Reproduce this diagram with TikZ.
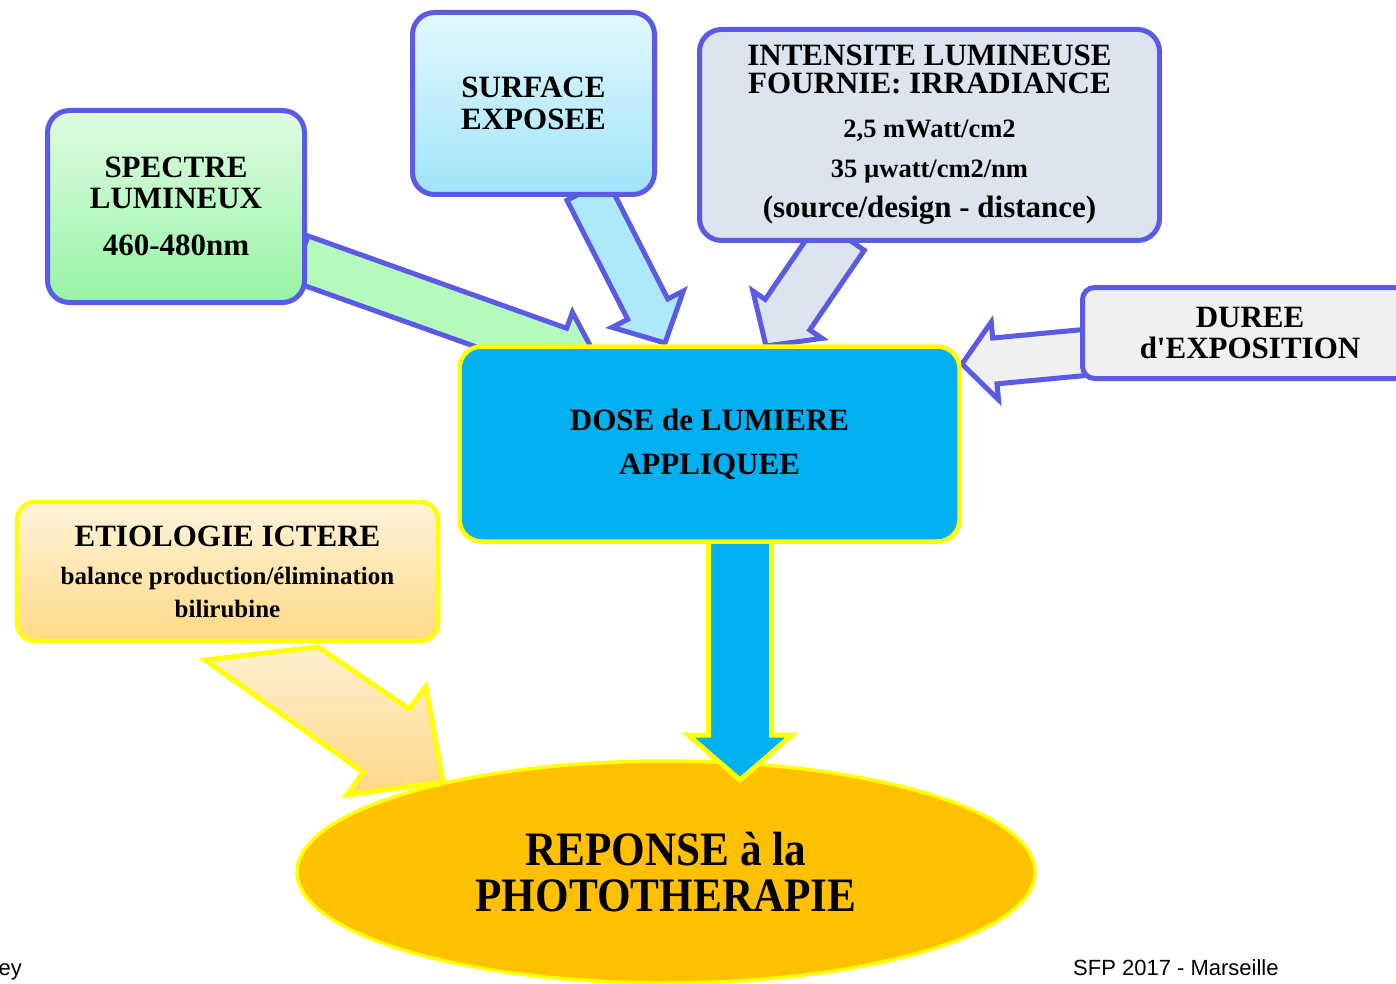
\documentclass[tikz,border=0pt]{standalone}
\usepackage{fontspec}
\setmainfont{Liberation Serif}
\newfontfamily\condfont{Liberation Serif}[FakeStretch=0.9]
\newfontfamily\arialfont{Liberation Sans}
\usetikzlibrary{calc,shapes.geometric}
\pgfdeclarelayer{back}
\pgfdeclarelayer{arrows}
\pgfsetlayers{back,arrows,main}

\definecolor{bord}{RGB}{90,90,228}
\definecolor{doseblue}{RGB}{0,176,240}
\definecolor{respgold}{RGB}{255,192,0}
\definecolor{yel}{RGB}{255,255,0}
\definecolor{greentop}{RGB}{224,252,226}
\definecolor{greenbot}{RGB}{150,244,165}
\definecolor{greenarr}{RGB}{181,249,189}
\definecolor{cyantop}{RGB}{226,248,253}
\definecolor{cyanbot}{RGB}{160,228,251}
\definecolor{cyanarr}{RGB}{174,232,251}
\definecolor{greyblue}{RGB}{220,228,240}
\definecolor{lightgrey}{RGB}{240,240,240}
\definecolor{oratop}{RGB}{255,243,220}
\definecolor{orabot}{RGB}{255,218,134}
\definecolor{oraarrtop}{RGB}{255,240,208}
\definecolor{oraarrbot}{RGB}{255,214,136}

\newcommand\blockarrow[7]{%
  \coordinate (#1s) at #3;
  \coordinate (#1t) at #4;
  \coordinate (#1h) at ($(#1t)!#7!(#1s)$);
  \path[#2] ($(#1s)!#5!90:(#1t)$) -- ($(#1h)!#5!-90:(#1s)$) -- ($(#1h)!#6!-90:(#1s)$)
    -- (#1t) -- ($(#1h)!#6!90:(#1s)$) -- ($(#1h)!#5!90:(#1s)$) -- ($(#1s)!#5!-90:(#1t)$) -- cycle;
}

\tikzset{
  box/.style={rounded corners=22pt, draw=bord, line width=5pt, inner sep=0pt, align=center,
    font=\bfseries\fontsize{31}{31}\selectfont},
  yelbox/.style={rounded corners=18pt, draw=yel, line width=4.5pt, inner sep=0pt, align=center,
    font=\bfseries\fontsize{31}{38}\selectfont},
  bluearrow/.style={draw=bord, line width=5pt, line join=miter},
  yelarrow/.style={draw=yel, line width=5pt, line join=miter},
  footer/.style={font=\arialfont\fontsize{22}{22}\selectfont, inner sep=0pt},
}

\begin{document}
\begin{tikzpicture}[x=1pt,y=-1pt]
\useasboundingbox (0,0) rectangle (1396,984);

\begin{pgfonlayer}{back}
  \fill[white] (0,0) rectangle (1396,984);
  \node[ellipse, fill=respgold, draw=yel, line width=3.5pt, minimum width=738pt, minimum height=222pt,
        inner sep=0pt, align=center, font=\condfont\bfseries\fontsize{48}{46}\selectfont]
        (resp) at (666,872) {REPONSE à la\\PHOTOTHERAPIE};
\end{pgfonlayer}

% boxes
\node[box, top color=greentop, bottom color=greenbot, minimum width=257pt, minimum height=192pt]
  (spectre) at (176,206.5) {SPECTRE\\LUMINEUX\\[16pt]460-480nm};
\node[box, top color=cyantop, bottom color=cyanbot, minimum width=242pt, minimum height=182pt,
      font=\bfseries\fontsize{31}{32}\selectfont]
  (surface) at (533.5,103.5) {SURFACE\\EXPOSEE};
\node[box, fill=greyblue, minimum width=460pt, minimum height=211pt,
      font=\bfseries\fontsize{31}{28}\selectfont]
  (intens) at (929.5,135) {INTENSITE LUMINEUSE\\FOURNIE: IRRADIANCE\\[16pt]{\fontsize{26.5}{28}\selectfont 2,5 mWatt/cm2}\\[12pt]{\fontsize{26.5}{28}\selectfont 35 µwatt/cm2/nm}\\[12pt](source/design - distance)};
\node[box, rounded corners=12pt, fill=lightgrey, minimum width=335pt, minimum height=91pt]
  (duree) at (1250,333) {DUREE\\d\textquotesingle EXPOSITION};
\node[yelbox, rounded corners=22pt, fill=doseblue, minimum width=500pt, minimum height=195pt,
      font=\bfseries\fontsize{31}{44}\selectfont]
  (dose) at (709.5,444) {DOSE de LUMIERE\\APPLIQUEE};
\node[yelbox, top color=oratop, bottom color=orabot, minimum width=421pt, minimum height=139pt]
  (etio) at (227.5,571.5) {ETIOLOGIE ICTERE\\{\fontsize{25}{33}\selectfont balance production/élimination}\\[-5pt]{\fontsize{25}{33}\selectfont bilirubine}};

% footer
\node[footer, anchor=base west] (sfp) at (1073,975) {SFP 2017 - Marseille};
\node[footer, anchor=base east] (ey) at (22,975) {ey};

% block arrows
\begin{pgfonlayer}{arrows}
  \blockarrow{ga}{bluearrow, fill=greenarr}{($(spectre.center)+(124,52)$)}{($(dose.center)+(-108.5,-78)$)}{24pt}{41pt}{45pt}
  \blockarrow{sa}{bluearrow, fill=cyanarr}{($(surface.center)+(53.5,86.5)$)}{($(dose.center)+(-44.5,-101)$)}{22.5pt}{40pt}{38pt}
  \blockarrow{ia}{bluearrow, fill=greyblue}{($(intens.center)+(-87.5,100)$)}{($(dose.center)+(56.5,-98)$)}{27pt}{42pt}{38pt}
  \blockarrow{da}{bluearrow, fill=lightgrey}{($(duree.center)+(-160,19)$)}{($(dose.center)+(252.5,-80)$)}{23pt}{39pt}{33pt}
  \blockarrow{pa}{yelarrow, fill=doseblue}{($(dose.center)+(30.5,86)$)}{($(resp.center)+(74,-92)$)}{31.5pt}{52pt}{45pt}
  \path[yelarrow, top color=oraarrtop, bottom color=oraarrbot]
    ($(etio.south)+(-22.5,16.75)$) -- ($(etio.south)+(90.5,3.75)$)
    -- ($(resp.center)+(-256.7,-162.9)$) -- ($(resp.center)+(-240.2,-185.6)$)
    -- ($(resp.center)+(-223,-90)$)
    -- ($(resp.center)+(-319.2,-77)$) -- ($(resp.center)+(-302.7,-99.7)$) -- cycle;
\end{pgfonlayer}
\end{tikzpicture}
\end{document}
